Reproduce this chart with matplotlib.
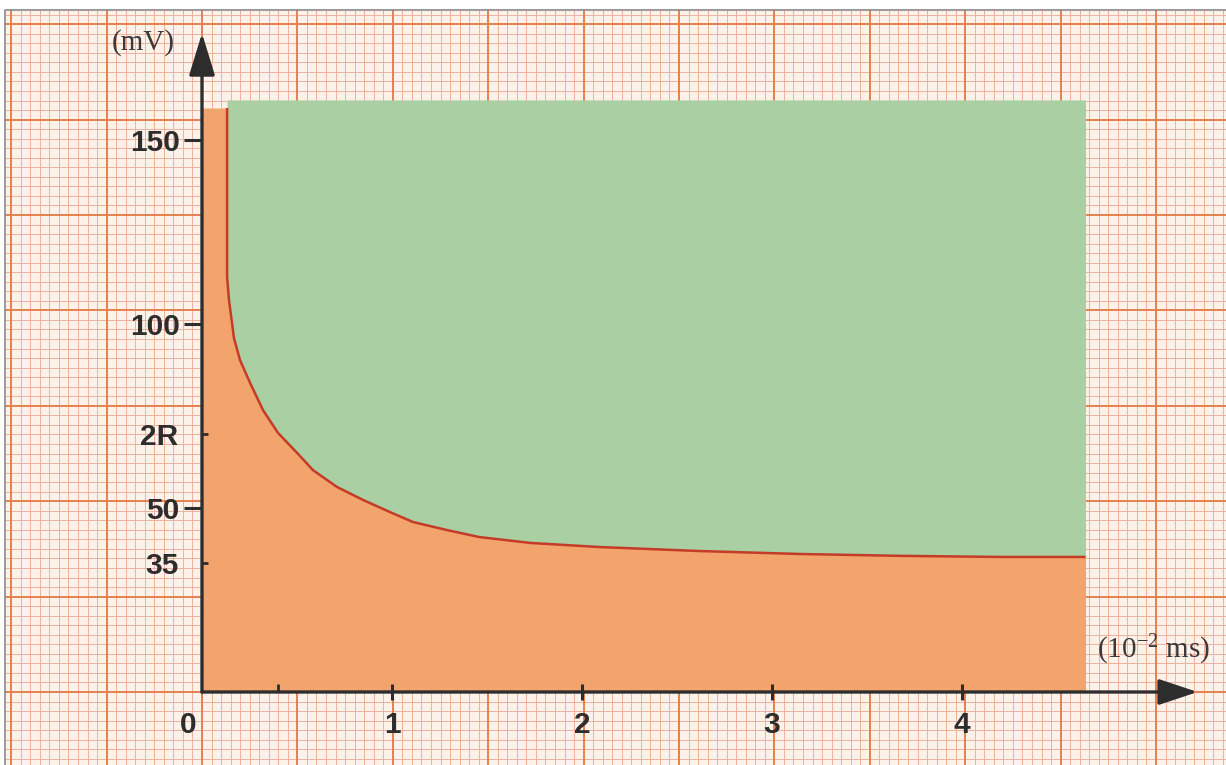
import numpy as np
import matplotlib
matplotlib.use("Agg")
import matplotlib.pyplot as plt

# ---------------- data ----------------
# strength-duration curve (time in 1e-2 ms, amplitude in mV)
curve_t = [0.132, 0.132, 0.142, 0.158, 0.168, 0.20, 0.253, 0.321, 0.40, 0.50,
           0.584, 0.711, 0.847, 0.989, 1.11, 1.29, 1.46, 1.73, 2.09, 2.62,
           3.15, 3.67, 4.20, 4.65]
curve_v = [158.7, 112.8, 106.5, 100.3, 96.2, 90.2, 84.0, 76.6, 70.4, 65.0,
           60.3, 55.7, 52.2, 48.9, 46.2, 44.0, 42.1, 40.5, 39.4, 38.3,
           37.5, 37.0, 36.7, 36.7]
orange_top = 158.7          # top of the sub-threshold (orange) strip
green_top = 160.9           # top of the supra-threshold (green) area

x_ticks = [1, 2, 3, 4]
x_tick_labels = ["1", "2", "3", "4"]
chronaxie = [0.4]
y_major = [50, 100, 150]
y_major_labels = ["50", "100", "150"]
y_minor = [35, 70]
y_minor_labels = ["35", "2R"]
x_label = r"(10$^{\mathrm{-2}}$ ms)"
y_label = "(mV)"

# ---------------- styling ----------------
plt.rcParams["mathtext.fontset"] = "custom"
plt.rcParams["mathtext.rm"] = "Liberation Serif"
plt.rcParams["mathtext.it"] = "Liberation Serif:italic"

W, H = 1226, 765
fig = plt.figure(figsize=(W / 100, H / 100), dpi=100)
fig.patch.set_facecolor("white")

# graph-paper background (pixel coordinates)
bg = fig.add_axes([0, 0, 1, 1])
bg.set_xlim(0, W)
bg.set_ylim(H, 0)
bg.axis("off")
paper_left, paper_top = 5, 10
bg.add_patch(plt.Rectangle((paper_left, paper_top), W - paper_left, H - paper_top,
                           facecolor="#FDF2EA", edgecolor="none", zorder=0))
ox, oy = 202.0, 692.0
step = 95.4 / 10
minor_c, major_c = "#EFB09C", "#E5804F"
k_min_x = int(np.ceil((paper_left - ox) / step))
k_max_x = int(np.floor((W - ox) / step))
for k in range(k_min_x, k_max_x + 1):
    x = ox + k * step
    major = (k % 10 == 0)
    bg.plot([x, x], [paper_top, H], color=major_c if major else minor_c,
            lw=1.4 if major else 0.7, zorder=2 if major else 1, solid_capstyle="butt")
k_min_y = int(np.ceil((oy - H) / step))
k_max_y = int(np.floor((oy - paper_top) / step))
for k in range(k_min_y, k_max_y + 1):
    y = oy - k * step
    major = (k % 10 == 0)
    bg.plot([paper_left, W], [y, y], color=major_c if major else minor_c,
            lw=1.4 if major else 0.7, zorder=2 if major else 1, solid_capstyle="butt")
bg.plot([paper_left, paper_left, W], [H, paper_top, paper_top], color="#8a8a8a", lw=1.2, zorder=3)

# data axes placed so that (0,0) is at pixel (202, 692)
px_per_x = 190.0
px_per_y = 3.68
xmax, ymax = 5.3, 180.0
ax = fig.add_axes([ox / W, (H - oy) / H, xmax * px_per_x / W, ymax * px_per_y / H])
ax.set_xlim(0, xmax)
ax.set_ylim(0, ymax)
ax.patch.set_alpha(0)
for s in ax.spines.values():
    s.set_visible(False)

orange = "#F3A46C"
green = "#A9CFA2"
red = "#C43C28"
ink = "#2d2d2d"

t = np.array(curve_t)
v = np.array(curve_v)
# orange region: under the curve, including the left strip up to the curve start
ax.fill_between(np.r_[0.0, t], 0, np.r_[orange_top, v], color=orange, lw=0, zorder=1)
# green region: above the curve
ax.fill_between(t, v, green_top, color=green, lw=0, zorder=1)
ax.plot(t, v, color=red, lw=1.8, zorder=3, solid_capstyle="butt", solid_joinstyle="round")
ax.set_axisbelow(False)

# axes with arrows
ax.annotate("", xy=(5.24, 0), xytext=(0, 0), annotation_clip=False,
            arrowprops=dict(arrowstyle="-|>,head_length=2.4,head_width=0.8", lw=2.4,
                            color=ink, shrinkA=0, shrinkB=0), zorder=5)
ax.annotate("", xy=(0, 179), xytext=(0, 0), annotation_clip=False,
            arrowprops=dict(arrowstyle="-|>,head_length=2.6,head_width=0.8", lw=2.4,
                            color=ink, shrinkA=0, shrinkB=0), zorder=5)

tick_font = dict(family="Liberation Sans", weight="bold", size=21.5, color=ink)

ax.set_xticks(x_ticks)
ax.set_xticklabels(x_tick_labels, fontdict=tick_font)
ax.set_xticks(chronaxie, minor=True)
ax.tick_params(axis="x", which="major", direction="inout", length=12, width=2.2,
               color=ink, pad=8)
ax.tick_params(axis="x", which="minor", direction="in", length=5.5, width=2.0,
               color=ink, labelbottom=False)

ax.set_yticks(y_major)
ax.set_yticklabels(y_major_labels, fontdict=tick_font)
ax.set_yticks(y_minor, minor=True)
ax.set_yticklabels(y_minor_labels, minor=True, fontdict=tick_font)
ax.tick_params(axis="y", which="major", direction="out", length=13, width=2.2,
               color=ink, pad=3)
ax.tick_params(axis="y", which="minor", direction="in", length=4.5, width=2.0,
               color=ink, pad=17)

ax.annotate("0", xy=(0, 0), xytext=(-10, -24), textcoords="offset points",
            ha="center", va="center", annotation_clip=False, **tick_font)

ax.text(-59 / px_per_x, (692 - 43) / px_per_y, y_label, family="Liberation Serif",
        size=21, color="#3a3a3a", ha="center", va="center")
ax.text(952 / px_per_x, 42 / px_per_y, x_label, family="Liberation Serif",
        size=21, color="#3a3a3a", ha="center", va="center")

fig.savefig("out.png", dpi=100)
